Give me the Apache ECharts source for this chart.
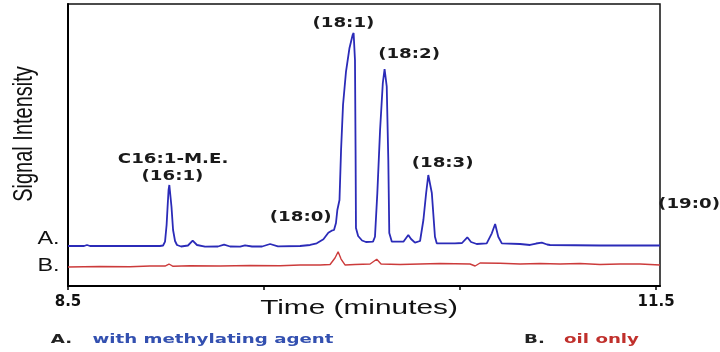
<!DOCTYPE html>
<html>
<head>
<meta charset="utf-8">
<script src="https://cdn.jsdelivr.net/npm/echarts@6/dist/echarts.min.js"></script>
<style>html,body{margin:0;padding:0;background:#fff}#c{width:720px;height:352px}</style>
</head>
<body>
<div id="c"></div>
<script>
// Trace A: with methylating agent (time in minutes, signal in arbitrary units)
const blueTime = [8.500,8.582,8.597,8.612,8.969,8.985,8.995,9.003,9.008,9.013,9.017,9.023,9.028,9.036,9.046,9.056,9.077,9.112,9.136,9.158,9.199,9.265,9.296,9.327,9.378,9.403,9.439,9.490,9.531,9.571,9.684,9.735,9.769,9.803,9.828,9.845,9.857,9.867,9.874,9.885,9.893,9.903,9.918,9.936,9.952,9.957,9.964,9.967,9.969,9.980,10.000,10.020,10.056,10.066,10.078,10.092,10.106,10.115,10.120,10.126,10.134,10.139,10.152,10.211,10.236,10.250,10.270,10.296,10.313,10.327,10.338,10.344,10.356,10.372,10.381,10.474,10.510,10.537,10.556,10.585,10.636,10.662,10.679,10.695,10.713,10.806,10.857,10.888,10.917,10.944,10.959,11.214,11.520];
const blueSignal = [14.18,14.18,14.54,14.18,14.18,14.36,15.71,21.63,28.01,34.04,35.82,35.82,28.01,19.86,15.96,14.54,14.01,14.36,16.06,14.54,13.94,14.01,14.65,14.01,13.94,14.43,14.01,14.01,14.89,14.08,14.18,14.54,15.14,16.56,18.90,19.61,19.86,22.34,26.95,30.50,48.23,64.18,75.89,84.40,89.01,89.72,80.14,48.23,20.57,17.73,16.13,15.60,15.71,17.48,32.98,55.32,71.99,76.95,77.20,70.67,44.68,18.79,15.71,15.71,18.09,16.67,15.35,15.96,23.40,32.98,39.36,39.36,32.98,17.48,15.14,15.14,15.25,17.27,15.60,14.89,15.14,18.69,21.99,17.48,15.14,14.89,14.54,15.07,15.35,14.72,14.54,14.36,14.36];
// Trace B: oil only
const redTime = [8.500,8.663,8.816,8.918,8.995,9.015,9.036,9.122,9.276,9.429,9.582,9.684,9.786,9.837,9.862,9.878,9.893,9.913,9.964,10.041,10.075,10.097,10.194,10.296,10.398,10.551,10.577,10.602,10.704,10.806,10.908,11.010,11.112,11.214,11.316,11.418,11.520];
const redSignal = [6.74,6.91,6.81,7.09,7.09,7.80,6.99,7.16,7.09,7.27,7.16,7.45,7.45,7.62,9.93,12.16,9.57,7.45,7.62,7.80,9.47,7.80,7.62,7.80,7.98,7.80,7.09,8.16,8.05,7.80,7.98,7.80,7.98,7.62,7.80,7.80,7.45];
// Axis ticks and labels
const tickValues = [8.5, 9.5, 10.5, 11.5];
const tickLabels = [8.5, 11.5];
// Peak annotations: text and anchor (time, signal) of the label centre
const annoText = ['C16:1-M.E.', '(16:1)', '(18:0)', '(18:1)', '(18:2)', '(18:3)', '(19:0)'];
const annoTime = [9.036, 9.033, 9.687, 9.905, 10.240, 10.411, 11.668];
const annoSignal = [45.0, 39.0, 24.5, 93.3, 82.3, 43.4, 29.1];

const zip = (a, b) => a.map((v, i) => [v, b[i]]);

const chart = echarts.init(document.getElementById('c'), null, {renderer: 'canvas'});
chart.setOption({
  animation: false,
  backgroundColor: '#fff',
  grid: {left: 68, right: 60, top: 4, bottom: 66, show: true, borderColor: '#111', borderWidth: 1.5},
  xAxis: {
    type: 'value', min: 8.5, max: 11.52,
    axisLine: {show: true, onZero: false, lineStyle: {color: '#000', width: 2}},
    axisTick: {show: true, customValues: tickValues, length: 4, inside: false, lineStyle: {color: '#000', width: 1.5}},
    axisLabel: {show: true, customValues: tickLabels, margin: 9, fontFamily: 'DejaVu Sans', fontWeight: 'bold', fontSize: 15, color: '#111'},
    splitLine: {show: false}
  },
  yAxis: {
    type: 'value', min: 0, max: 100,
    axisLine: {show: true, lineStyle: {color: '#000', width: 2}},
    axisTick: {show: false}, axisLabel: {show: false}, splitLine: {show: false}
  },
  series: [
    {name: 'A. with methylating agent', type: 'line', data: zip(blueTime, blueSignal), symbol: 'none',
     lineStyle: {color: '#2b2bb8', width: 1.8}, z: 3},
    {name: 'B. oil only', type: 'line', data: zip(redTime, redSignal), symbol: 'none',
     lineStyle: {color: '#cc3b3b', width: 1.4}, z: 2}
  ]
});

const gfx = [];
annoText.forEach((t, i) => {
  const p = chart.convertToPixel({gridIndex: 0}, [annoTime[i], annoSignal[i]]);
  gfx.push({type: 'text', x: p[0], y: p[1], scaleX: 1.3, z: 10,
    style: {text: t, font: 'bold 14px "DejaVu Sans"', fill: '#1a1a1a', align: 'center', verticalAlign: 'middle'}});
});
// axis titles
gfx.push({type: 'text', x: 359, y: 308, scaleX: 1.42,
  style: {text: 'Time (minutes)', font: '21px "Liberation Sans"', fill: '#111', align: 'center', verticalAlign: 'middle'}});
gfx.push({type: 'text', x: 25, y: 134, rotation: Math.PI / 2, scaleY: 1.35,
  style: {text: 'Signal Intensity', font: '20px "Liberation Sans"', fill: '#111', align: 'center', verticalAlign: 'middle'}});
// trace labels
gfx.push({type: 'text', x: 48.5, y: 239, scaleX: 1.3,
  style: {text: 'A.', font: '18px "Liberation Sans"', fill: '#111', align: 'center', verticalAlign: 'middle'}});
gfx.push({type: 'text', x: 48.5, y: 266, scaleX: 1.3,
  style: {text: 'B.', font: '18px "Liberation Sans"', fill: '#111', align: 'center', verticalAlign: 'middle'}});
// bottom legend
gfx.push({type: 'text', x: 61.5, y: 340, scaleX: 1.4,
  style: {text: 'A.', font: 'bold 13px "DejaVu Sans"', fill: '#222', align: 'center', verticalAlign: 'middle'}});
gfx.push({type: 'text', x: 213, y: 340, scaleX: 1.4,
  style: {text: 'with methylating agent', font: 'bold 13px "DejaVu Sans"', fill: '#3350b0', align: 'center', verticalAlign: 'middle'}});
gfx.push({type: 'text', x: 534.5, y: 340, scaleX: 1.4,
  style: {text: 'B.', font: 'bold 13px "DejaVu Sans"', fill: '#222', align: 'center', verticalAlign: 'middle'}});
gfx.push({type: 'text', x: 601.5, y: 340, scaleX: 1.4,
  style: {text: 'oil only', font: 'bold 13px "DejaVu Sans"', fill: '#c0302c', align: 'center', verticalAlign: 'middle'}});
chart.setOption({graphic: gfx});
</script>
</body>
</html>
